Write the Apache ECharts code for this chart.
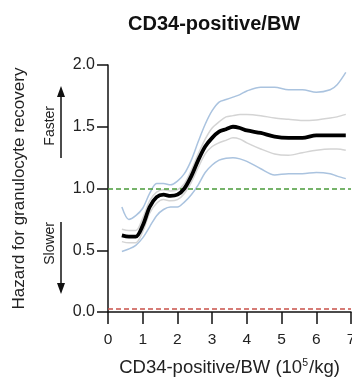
<!DOCTYPE html>
<html>
<head>
<meta charset="utf-8">
<script src="https://cdn.jsdelivr.net/npm/echarts@6/dist/echarts.min.js"></script>
<style>
html,body{margin:0;padding:0;background:#fff;}
#c{width:352px;height:381px;}
</style>
</head>
<body>
<div id="c"></div>
<script>
// Data
const xValues   = [0.4, 0.6, 0.8, 1.0, 1.2, 1.4, 1.6, 1.8, 2.0, 2.2, 2.4, 2.6, 2.8, 3.0, 3.2, 3.4, 3.6, 3.8, 4.0, 4.4, 4.8, 5.2, 5.6, 6.0, 6.4, 6.6, 6.85];
const hazard    = [0.62, 0.61, 0.61, 0.70, 0.85, 0.93, 0.95, 0.94, 0.95, 1.00, 1.10, 1.23, 1.34, 1.41, 1.46, 1.48, 1.50, 1.49, 1.47, 1.45, 1.42, 1.41, 1.41, 1.43, 1.43, 1.43, 1.43];
const upper95   = [0.85, 0.75, 0.78, 0.84, 0.96, 1.04, 1.04, 1.03, 1.06, 1.12, 1.23, 1.38, 1.52, 1.63, 1.70, 1.72, 1.74, 1.76, 1.79, 1.82, 1.82, 1.80, 1.80, 1.78, 1.80, 1.84, 1.94];
const lower95   = [0.49, 0.51, 0.54, 0.60, 0.69, 0.78, 0.83, 0.85, 0.85, 0.89, 0.95, 1.03, 1.13, 1.19, 1.23, 1.245, 1.25, 1.24, 1.22, 1.16, 1.11, 1.12, 1.12, 1.13, 1.12, 1.10, 1.08];
const upperSE   = [0.67, 0.66, 0.66, 0.76, 0.90, 0.97, 0.99, 0.98, 0.99, 1.04, 1.15, 1.28, 1.40, 1.49, 1.54, 1.58, 1.59, 1.60, 1.60, 1.59, 1.57, 1.56, 1.55, 1.555, 1.57, 1.58, 1.60];
const lowerSE   = [0.57, 0.56, 0.56, 0.65, 0.80, 0.88, 0.91, 0.90, 0.91, 0.96, 1.05, 1.17, 1.28, 1.34, 1.37, 1.39, 1.41, 1.40, 1.37, 1.32, 1.28, 1.27, 1.29, 1.31, 1.32, 1.32, 1.31];
const refNull   = 1.0;
const refLow    = 0.025;
const xTicks    = [0, 1, 2, 3, 4, 5, 6, 7];
const yTicks    = ['0.0', '0.5', '1.0', '1.5', '2.0'];

const pairs = ys => xValues.map((x, i) => [x, ys[i]]);

const chart = echarts.init(document.getElementById('c'), null, {renderer: 'canvas'});
const FONT = 'Liberation Sans, Arial, sans-serif';

function lineSeries(name, ys, color, width, z) {
  return {
    name, type: 'line', data: pairs(ys), smooth: 0.3, showSymbol: false, symbol: 'none',
    lineStyle: {color, width}, z, silent: true
  };
}

const option = {
  animation: false,
  backgroundColor: '#fff',
  title: {
    text: 'CD34-positive/BW',
    left: 123, top: 9,
    textStyle: {fontFamily: FONT, fontSize: 20, fontWeight: 'bold', color: '#111'}
  },
  grid: {left: 108, right: 1, top: 65, bottom: 69, containLabel: false, outerBoundsMode: 'none'},
  xAxis: {
    type: 'value', min: xTicks[0], max: xTicks[xTicks.length - 1], interval: 1,
    name: 'CD34-positive/BW (10{sup|5}/kg)',
    nameLocation: 'middle', nameGap: 46,
    nameTextStyle: {fontFamily: FONT, fontSize: 18.5, color: '#222',
      rich: {sup: {fontFamily: FONT, fontSize: 10.5, verticalAlign: 'top', padding: [0, 1, 8, 0], color: '#222'}}},
    axisLine: {show: true, onZero: false, lineStyle: {color: '#111', width: 1.5}},
    axisTick: {show: true, length: 12, lineStyle: {color: '#111', width: 1.5}},
    axisLabel: {fontFamily: FONT, fontSize: 15.5, color: '#222', margin: 20,
      formatter: v => String(v), showMaxLabel: true, hideOverlap: false},
    splitLine: {show: false}
  },
  yAxis: {
    type: 'value', min: 0, max: 2, interval: 0.5,
    name: 'Hazard for granulocyte recovery',
    nameLocation: 'middle', nameGap: 80, nameRotate: 90,
    nameTextStyle: {fontFamily: FONT, fontSize: 17, color: '#222'},
    axisLine: {show: true, onZero: false, lineStyle: {color: '#111', width: 1.5}},
    axisTick: {show: true, length: 11, lineStyle: {color: '#111', width: 1.5}},
    axisLabel: {fontFamily: FONT, fontSize: 16, color: '#222', margin: 13,
      formatter: v => yTicks[Math.round(v / 0.5)]},
    splitLine: {show: false}
  },
  series: [
    lineSeries('upper95', upper95, '#aac3df', 1.5, 2),
    lineSeries('lower95', lower95, '#aac3df', 1.5, 2),
    lineSeries('upperSE', upperSE, '#d4d4d4', 1.5, 3),
    lineSeries('lowerSE', lowerSE, '#d4d4d4', 1.5, 3),
    Object.assign(lineSeries('hazard', hazard, '#000', 3.8, 5), {
      markLine: {
        silent: true, symbol: 'none', animation: false,
        label: {show: false},
        data: [
          {yAxis: refNull, lineStyle: {color: '#4a9a3a', type: [5, 3], width: 1.5}},
          {yAxis: refLow, lineStyle: {color: '#c9514a', type: [5, 3], width: 1.5}}
        ]
      }
    })
  ],
  graphic: [
    {type: 'text', left: 43, top: 106, rotation: Math.PI / 2,
      style: {text: 'Faster', fontFamily: FONT, fontSize: 14, fill: '#222'}},
    {type: 'text', left: 43, top: 222, rotation: Math.PI / 2,
      style: {text: 'Slower', fontFamily: FONT, fontSize: 14, fill: '#222'}},
    {type: 'line', shape: {x1: 61, y1: 96, x2: 61, y2: 158}, style: {stroke: '#111', lineWidth: 1.5}},
    {type: 'polygon', shape: {points: [[61, 86], [57, 97], [65, 97]]}, style: {fill: '#111'}},
    {type: 'line', shape: {x1: 61, y1: 222, x2: 61, y2: 284}, style: {stroke: '#111', lineWidth: 1.5}},
    {type: 'polygon', shape: {points: [[61, 294], [57, 283], [65, 283]]}, style: {fill: '#111'}}
  ]
};
chart.setOption(option);
</script>
</body>
</html>
